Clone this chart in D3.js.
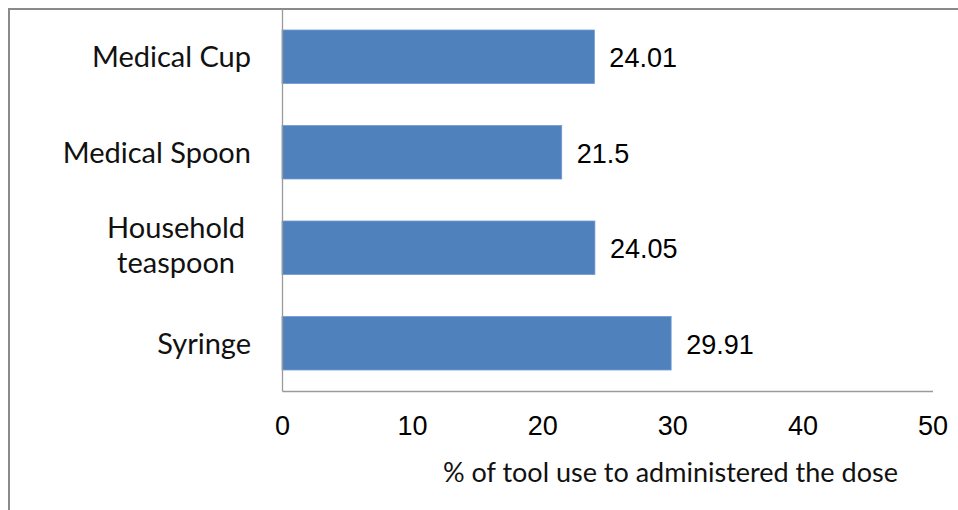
<!DOCTYPE html>
<html>
<head>
<meta charset="utf-8">
<script src="https://cdn.jsdelivr.net/npm/d3@7"></script>
<style>
  html, body { margin: 0; padding: 0; background: #fff; }
  svg { display: block; }
</style>
</head>
<body>
<svg id="chart" width="958" height="510"></svg>
<script>
// Dosing tools, top to bottom
const categories = ["Medical Cup", "Medical Spoon", "Household teaspoon", "Syringe"];
const values = [24.01, 21.5, 24.05, 29.91];
const tickValues = [0, 10, 20, 30, 40, 50];
const axisTitle = "% of tool use to administered the dose";

const W = 958, H = 510;
const plot = { left: 282, right: 932.5, top: 9, bottom: 391 };
const labelFont = "Lato, 'Open Sans', sans-serif";
const numberFont = "'Liberation Sans', Arial, sans-serif";
const barColor = "#4F81BD";

const svg = d3.select("#chart");

// outer chart frame (right and bottom edges run off the canvas)
svg.append("rect")
  .attr("x", 9).attr("y", 9)
  .attr("width", W + 20).attr("height", H + 20)
  .attr("fill", "#fff")
  .attr("stroke", "#8a8a8a")
  .attr("stroke-width", 2);

const x = d3.scaleLinear().domain([0, 50]).range([plot.left, plot.right]);
const y = d3.scaleBand()
  .domain(categories)
  .range([plot.top, plot.bottom])
  .paddingInner(0.44)
  .paddingOuter(0.22);

// bars
svg.append("g").selectAll("rect")
  .data(categories)
  .join("rect")
  .attr("x", x(0))
  .attr("y", d => y(d))
  .attr("width", (d, i) => x(values[i]) - x(0))
  .attr("height", y.bandwidth())
  .attr("fill", barColor)
  .attr("stroke", "#6f9ad0")
  .attr("stroke-width", 0.8);

// axes lines
const xAxis = d3.axisBottom(x).tickValues(tickValues).tickSize(0).tickPadding(0);
const gx = svg.append("g").attr("transform", `translate(0,${plot.bottom})`).call(xAxis);
gx.select(".domain").attr("stroke", "#9a9a9a").attr("stroke-width", 1.3);
gx.selectAll(".tick text")
  .attr("y", 44).attr("dy", null)
  .attr("font-family", numberFont)
  .attr("font-size", 27)
  .attr("fill", "#000");

const yAxis = d3.axisLeft(y).tickSize(0).tickFormat("");
const gy = svg.append("g").attr("transform", `translate(${plot.left},0)`).call(yAxis);
gy.select(".domain").attr("stroke", "#9a9a9a").attr("stroke-width", 1.3);

// category labels, wrapped; wrapped blocks keep room for the trailing space
const labelRight = 251;
const maxLabelWidth = 200;
const lineGap = 35;
const capHalf = 10.5;
const wrapShift = 6;
const labels = svg.append("g")
  .attr("font-family", labelFont)
  .attr("font-size", 29)
  .attr("fill", "#111");

categories.forEach(cat => {
  const cy = y(cat) + y.bandwidth() / 2;
  const probe = labels.append("text").text(cat);
  let lines = [cat];
  if (probe.node().getComputedTextLength() > maxLabelWidth) {
    const words = cat.split(" ");
    lines = [];
    let cur = "";
    words.forEach(w => {
      const t = cur ? cur + " " + w : w;
      probe.text(t);
      if (probe.node().getComputedTextLength() > maxLabelWidth && cur) {
        lines.push(cur); cur = w;
      } else cur = t;
    });
    if (cur) lines.push(cur);
  }
  probe.remove();
  const widths = lines.map(l => {
    const t = labels.append("text").text(l);
    const wv = t.node().getComputedTextLength();
    t.remove();
    return wv;
  });
  const blockW = d3.max(widths);
  const firstY = cy + capHalf - (lines.length - 1) * (lineGap / 2 + 3);
  lines.forEach((l, i) => {
    labels.append("text")
      .attr("x", lines.length > 1 ? labelRight - blockW / 2 - wrapShift : labelRight)
      .attr("y", firstY + i * lineGap)
      .attr("text-anchor", lines.length > 1 ? "middle" : "end")
      .text(l);
  });
});

// value labels
svg.append("g").selectAll("text")
  .data(categories)
  .join("text")
  .attr("x", (d, i) => x(values[i]) + 15)
  .attr("y", d => y(d) + y.bandwidth() / 2 + 10.5)
  .attr("font-family", numberFont)
  .attr("font-size", 27)
  .attr("fill", "#000")
  .text((d, i) => String(values[i]));

// axis title
svg.append("text")
  .attr("x", 443)
  .attr("y", 482)
  .attr("font-family", labelFont)
  .attr("font-size", 27)
  .attr("fill", "#111")
  .text(axisTitle);
</script>
</body>
</html>
